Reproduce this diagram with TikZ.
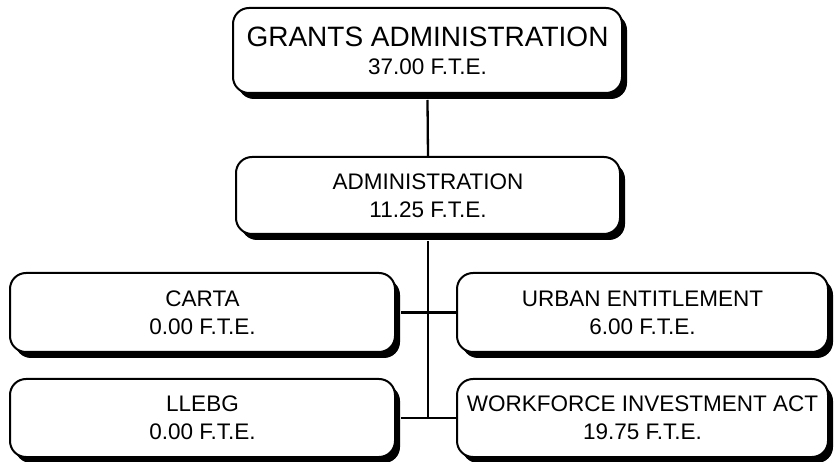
\documentclass[tikz,border=0pt]{standalone}
\usepackage{fontspec}
\setmainfont{Liberation Sans}
\usetikzlibrary{shadows}
\begin{document}
\begin{tikzpicture}[x=1pt,y=-1pt,
  orgbox/.style={draw=black, line width=2pt, fill=white, rounded corners=16pt,
    inner sep=0pt, align=center,
    font=\fontsize{22.5}{28}\selectfont,
    drop shadow={shadow xshift=5pt, shadow yshift=-6pt, fill=black, opacity=1}},
  link/.style={line width=2.3pt, draw=black}]
\useasboundingbox (0,0) rectangle (836,462);
\node[orgbox, minimum width=389pt, minimum height=85pt] (grants) at (427.5,50.5)
  {{\fontsize{28}{28}\selectfont GRANTS ADMINISTRATION}\\37.00 F.T.E.};
\node[orgbox, minimum width=384pt, minimum height=77pt] (admin) at (428,195.5)
  {ADMINISTRATION\\11.25 F.T.E.};
\node[orgbox, minimum width=385pt, minimum height=79pt] (carta) at (202.5,312.5)
  {CARTA\\0.00 F.T.E.};
\node[orgbox, minimum width=371pt, minimum height=79pt] (urban) at (642.5,312.5)
  {URBAN ENTITLEMENT\\6.00 F.T.E.};
\node[orgbox, minimum width=385pt, minimum height=78pt] (llebg) at (202.5,418)
  {LLEBG\\0.00 F.T.E.};
\node[orgbox, minimum width=371pt, minimum height=78pt] (wia) at (642.5,418)
  {WORKFORCE INVESTMENT ACT\\19.75 F.T.E.};
\coordinate (jend) at (admin.south |- llebg.east);
\draw[link] ([yshift=-6pt]grants.south) -- (admin.north);
\draw[link] ([yshift=-6pt]admin.south) -- (jend);
\draw[link] ([xshift=5pt]carta.east) -- (urban.west);
\draw[link] ([xshift=5pt]llebg.east) -- (wia.west);
\end{tikzpicture}
\end{document}
